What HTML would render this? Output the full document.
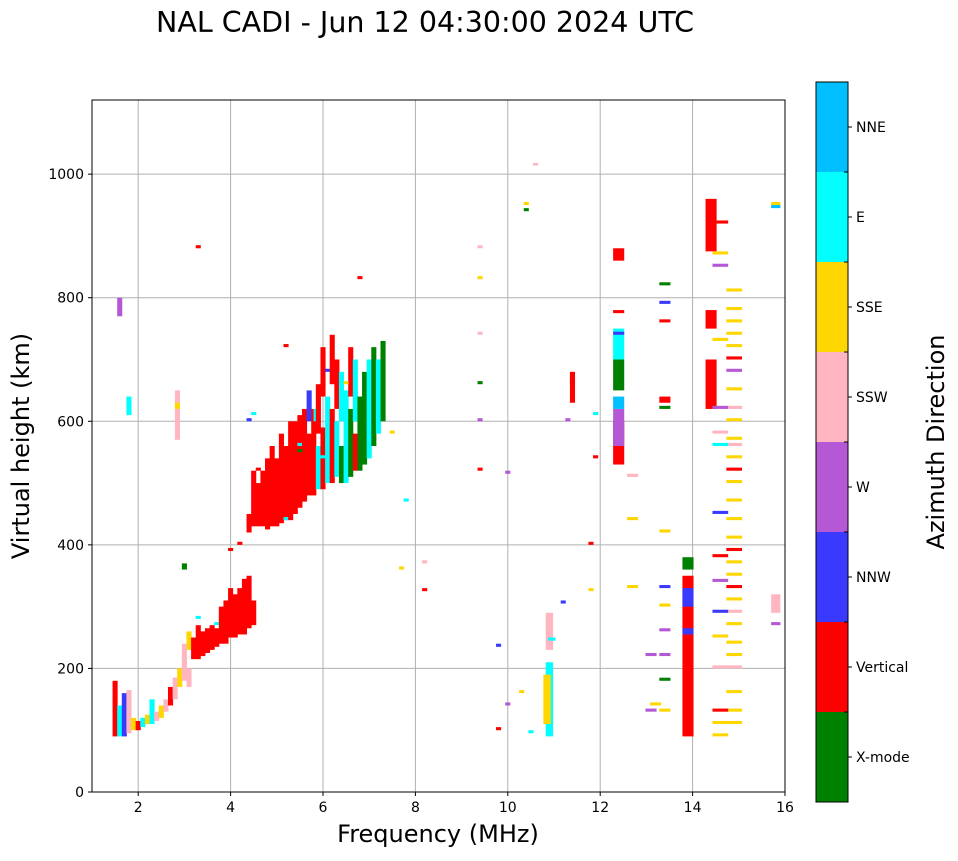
<!DOCTYPE html>
<html><head><meta charset="utf-8"><style>
body{margin:0;background:#fff;font-family:"DejaVu Sans","Liberation Sans",sans-serif;}
svg text{font-family:"DejaVu Sans","Liberation Sans",sans-serif;}
</style></head><body>
<svg id="chart" width="958" height="857" viewBox="0 0 958 857" xmlns="http://www.w3.org/2000/svg">
<text x="425" y="32" font-size="28.5" text-anchor="middle">NAL CADI - Jun 12 04:30:00 2024 UTC</text>
<g id="grid"></g>
<g id="marks"></g>
<rect x="92" y="100" width="693" height="692" fill="none" stroke="#000" stroke-width="1"/>
<g id="axes"></g>
<text x="438" y="842" font-size="24" text-anchor="middle">Frequency (MHz)</text>
<text transform="translate(29,446) rotate(-90)" font-size="24" text-anchor="middle">Virtual height (km)</text>
<g id="cbar"></g>
<text transform="translate(944,442) rotate(-90)" font-size="24" text-anchor="middle">Azimuth Direction</text>
</svg>
<script>
const xTicks=[2,4,6,8,10,12,14,16];
const yTicks=[0,200,400,600,800,1000];
const categories=["X-mode","Vertical","NNW","W","SSW","SSE","E","NNE"];
const catColors=["#008000","#ff0000","#3a3aff","#b558d6","#ffb6c1","#ffd700","#00ffff","#00bfff"];
// segments: frequency (MHz), start height, end height (km), category index
const segF=[3.1,3.1,3.2,3.3,3.3,3.4,3.5,3.6,3.7,3.7,3.8,3.9,4.0,4.0,4.1,4.2,4.2,4.3,4.4,4.4,4.5,4.5,4.6,4.6,4.7,4.8,4.9,5.0,5.1,5.2,5.2,5.3,5.4,5.5,5.5,5.6,5.7,5.7,5.8,5.85,5.9,5.9,6.0,6.0,6.1,6.1,6.2,6.2,6.3,6.3,6.4,6.4,6.5,6.6,6.6,6.7,6.7,6.8,6.9,7.0,7.1,7.2,7.3,
1.5,1.6,1.7,1.8,1.9,2.0,2.1,2.2,2.3,2.4,2.5,2.6,2.7,2.8,2.9,3.0,1.6,1.8,2.85,2.85,3.0,
10.9,10.85,10.9,10.95,
12.4,12.4,12.4,12.4,12.4,12.4,12.4,12.4,
13.9,13.9,13.9,13.9,
14.4,14.4,14.4,
11.4,11.4,
14.9,14.9,14.9,14.9,14.9,14.9,14.9,14.9,14.9,14.9,14.9,14.9,14.9,14.9,14.9,14.9,14.9,14.9,14.9,14.9,14.9,14.9,14.9,14.9,14.9,14.9,14.9,14.9,14.9,14.9,14.9,
14.6,14.6,14.6,14.6,14.6,14.6,14.6,14.6,14.6,14.6,14.6,14.6,14.6,14.6,14.6,14.6,
13.4,13.4,13.4,13.4,13.4,13.4,13.4,13.4,13.4,13.4,13.4,13.4,13.1,13.1,13.2,12.7,12.7,12.7,
15.8,15.8,15.8,15.8,
9.4,9.4,9.4,9.4,9.4,9.4,9.8,9.8,10.0,10.0,10.4,10.4,10.3,10.6,10.5,11.2,11.3,11.8,11.8,11.9,11.9,8.2,8.2,7.7,7.8,7.5,6.8,6.0,6.5,5.5,5.2,4.4,4.5,3.3];
const segH0=[170,230,215,215,280,220,225,230,235,270,240,240,250,390,250,255,400,255,265,420,270,430,430,520,430,425,430,430,435,440,440,440,450,460,560,470,480,600,480,600,490,580,490,640,500,680,500,660,510,620,500,600,500,510,640,520,600,520,530,540,560,580,600,
90,90,90,95,100,100,105,110,110,115,120,130,140,150,170,180,770,610,570,620,360,
90,110,230,245,
530,560,620,650,700,860,775,740,
90,300,360,255,
620,750,875,
630,660,
110,130,160,200,220,240,270,290,310,330,350,370,390,410,440,470,500,520,540,560,570,600,620,650,680,700,720,740,760,780,810,
90,110,130,200,250,290,340,380,450,560,580,620,730,850,870,920,
130,180,220,260,300,330,420,620,630,760,790,820,130,220,140,330,440,510,
270,290,950,945,
520,600,660,740,830,880,100,235,140,515,940,950,160,1015,95,305,600,325,400,540,610,325,370,360,470,580,830,540,660,550,720,600,610,880];
const segH1=[200,260,250,270,285,260,265,270,265,275,300,310,330,395,320,330,405,345,350,450,310,520,500,525,520,540,560,540,580,560,445,600,600,610,565,620,580,650,620,620,560,660,590,720,640,685,620,740,600,700,560,680,650,620,720,580,700,640,680,700,720,700,730,
180,140,160,165,120,115,120,125,150,130,140,150,170,185,200,240,800,640,650,630,370,
210,190,290,250,
600,620,640,700,750,880,780,745,
350,330,380,265,
700,780,960,
680,670,
115,135,165,205,225,245,275,295,315,335,355,375,395,415,445,475,505,525,545,565,575,605,625,655,685,705,725,745,765,785,815,
95,115,135,205,255,295,345,385,455,565,585,625,735,855,875,925,
135,185,225,265,305,335,425,625,640,765,795,825,135,225,145,335,445,515,
275,320,955,950,
525,605,665,745,835,885,105,240,145,520,945,955,165,1018,100,310,605,330,405,545,615,330,375,365,475,585,835,545,665,555,725,605,615,885];
const segC=[4,5,1,1,6,1,1,1,1,6,1,1,1,1,1,1,1,1,1,1,1,1,1,1,1,1,1,1,1,1,6,1,1,1,6,1,1,2,1,6,6,1,1,1,6,2,1,1,6,1,0,6,6,0,1,1,6,0,0,6,0,6,0,
1,6,2,4,5,1,6,5,6,4,5,4,1,4,5,4,3,6,4,5,0,
6,5,4,6,
1,3,7,0,6,1,1,2,
1,2,0,2,
1,1,1,
1,1,
5,5,5,4,5,5,5,4,5,1,5,5,1,5,5,5,5,1,5,4,5,5,4,5,3,1,5,5,5,5,5,
5,5,1,4,5,2,3,1,2,6,4,3,5,3,5,1,
5,0,3,3,5,2,5,0,1,1,2,0,3,3,5,5,5,4,
3,4,5,7,
1,3,0,4,5,4,1,2,3,3,0,5,5,4,6,2,3,5,1,1,6,1,4,5,6,5,1,6,5,0,1,2,6,1];
const NS="http://www.w3.org/2000/svg";
const X0=92,X1=785,Y0=792,Y1=100;
const xs=f=>X0+(f-1)/(16-1)*(X1-X0);
const ys=h=>Y0-h/1120*(Y0-Y1);
function mk(tag,attrs,parent){const e=document.createElementNS(NS,tag);for(const k in attrs)e.setAttribute(k,attrs[k]);parent.appendChild(e);return e;}
const grid=document.getElementById('grid'),axes=document.getElementById('axes'),marks=document.getElementById('marks'),cbar=document.getElementById('cbar');
xTicks.forEach(t=>{const x=xs(t);
 if(t<16){const g=mk('line',{x1:x,x2:x,y1:Y1,y2:Y0,stroke:'#b0b0b0','stroke-width':1},grid);
 
 }
 mk('line',{x1:x,x2:x,y1:Y0,y2:Y0+4,stroke:'#000'},axes);
 const l=mk('text',{x:x,y:Y0+20,'font-size':14,'text-anchor':'middle'},axes);l.textContent=t;
 
 });
yTicks.forEach(t=>{const y=ys(t);
 if(t>0){const g=mk('line',{x1:X0,x2:X1,y1:y,y2:y,stroke:'#b0b0b0','stroke-width':1},grid);
 
 }
 mk('line',{x1:X0-4,x2:X0,y1:y,y2:y,stroke:'#000'},axes);
 const l=mk('text',{x:X0-8,y:y+5,'font-size':14,'text-anchor':'end'},axes);l.textContent=t;
 
 });
for(let i=0;i<segF.length;i++){
 const f=segF[i];
 const half=f>=15.5?0.1:(f>=14.5?0.17:(f>=12?0.12:(f>=10.8&&f<11?0.08:0.055)));
 const x=xs(f-half),w=xs(f+half)-x;
 const y=ys(segH1[i]),h=Math.max(2.5,ys(segH0[i])-y);
 const r=mk('rect',{x:x,y:y,width:w,height:h,fill:catColors[segC[i]]},marks);
 
 }
const CB0=802,CB1=82,cbh=(CB0-CB1)/categories.length;
categories.forEach((c,i)=>{const y=CB0-(i+1)*cbh;
 const r=mk('rect',{x:816,y:y,width:32,height:cbh,fill:catColors[i]},cbar);
 
 
 mk('line',{x1:848,x2:852,y1:y+cbh/2,y2:y+cbh/2,stroke:'#000'},cbar);
 const l=mk('text',{x:856,y:y+cbh/2+5,'font-size':14},cbar);l.textContent=c;
 
 });
for(let i=0;i<=categories.length;i++){const y=CB0-i*cbh;mk('line',{x1:844,x2:848,y1:y,y2:y,stroke:'#000'},cbar);}
mk('rect',{x:816,y:CB1,width:32,height:CB0-CB1,fill:'none',stroke:'#000'},cbar);
</script>
</body></html>
